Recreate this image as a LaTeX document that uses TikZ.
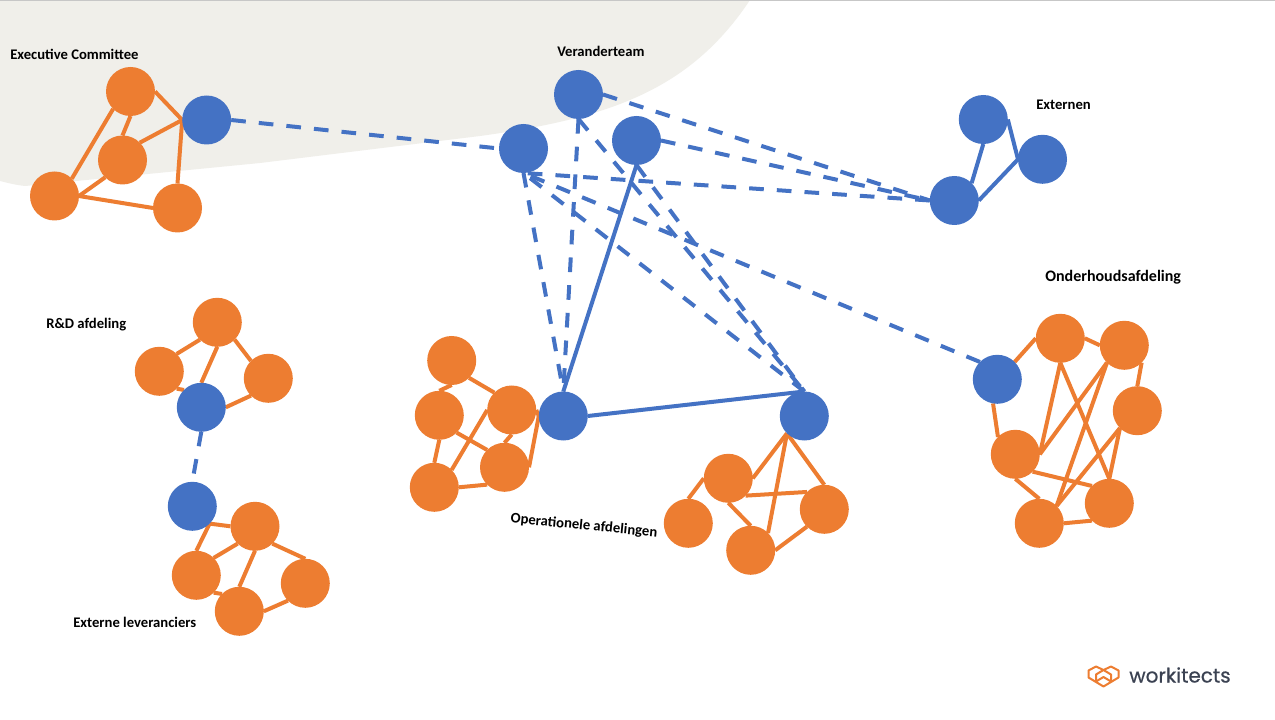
\documentclass[tikz,border=0pt]{standalone}
\usepackage{fontspec}
\setmainfont{Carlito}
\newfontfamily\logofont[FakeBold=0.5]{Poppins}
\pgfdeclarelayer{bg}
\pgfdeclarelayer{edges}
\pgfsetlayers{bg,edges,main}
\definecolor{wkorange}{HTML}{ED7D31}
\definecolor{wkblue}{HTML}{4472C4}
\definecolor{wksand}{HTML}{F0EFEA}
\definecolor{wkdark}{HTML}{3B4252}
\tikzset{
  orangedot/.style={circle,fill=wkorange,minimum size=36.75pt,inner sep=0pt,outer sep=0pt},
  bluedot/.style={circle,fill=wkblue,minimum size=36.75pt,inner sep=0pt,outer sep=0pt},
  olink/.style={draw=wkorange,line width=3pt},
  blink/.style={draw=wkblue,line width=3pt},
  dlink/.style={draw=wkblue,line width=3pt,dash pattern=on 11pt off 9.8pt},
  lab/.style={font=\bfseries\fontsize{11}{13}\selectfont,text=black,inner sep=0pt},
}
\begin{document}
\begin{tikzpicture}[x=0.75pt,y=-0.75pt]
\useasboundingbox (0,0) rectangle (1275,720);
\begin{pgfonlayer}{bg}
\fill[white] (0,0) rectangle (1275,720);
\fill[wksand] (0,0) -- (0,181) .. controls (8,183) and (16,185) .. (25,186) -- (260,163) -- (480,136) .. controls (610,118) and (690,90) .. (750,0) -- cycle;
\fill[black!22] (0,0) rectangle (1275,1);
\end{pgfonlayer}
% Executive Committee
\node[orangedot] (e1) at (130.5,91.5) {};
\node[orangedot] (e2) at (122.5,160) {};
\node[orangedot] (e3) at (54.5,196) {};
\node[orangedot] (e4) at (177.5,208) {};
\node[bluedot] (eb) at (206.7,120) {};
% Veranderteam
\node[bluedot] (v1) at (523.5,148.5) {};
\node[bluedot] (v2) at (578.5,94.5) {};
\node[bluedot] (v3) at (636.5,140.5) {};
% Externen
\node[bluedot] (x1) at (983.3,119.5) {};
\node[bluedot] (x2) at (1042.5,159.3) {};
\node[bluedot] (x3) at (954.3,200.5) {};
% Operational
\node[orangedot] (a1) at (451.7,360.5) {};
\node[orangedot] (a2) at (439.3,415.3) {};
\node[orangedot] (a3) at (511.7,410) {};
\node[orangedot] (a4) at (504.5,467.3) {};
\node[orangedot] (a5) at (434.3,487.3) {};
\node[bluedot] (p1) at (563.3,416) {};
\node[bluedot] (p2) at (804.3,416) {};
\node[orangedot] (b1) at (728.3,478.3) {};
\node[orangedot] (b2) at (688.3,523.3) {};
\node[orangedot] (b3) at (750.7,550.3) {};
\node[orangedot] (b4) at (824.3,509.3) {};
% Onderhoud
\node[bluedot] (rb) at (997.3,379.3) {};
\node[orangedot] (c1) at (1060.3,338.3) {};
\node[orangedot] (c2) at (1124.3,345.3) {};
\node[orangedot] (c3) at (1137.3,410.7) {};
\node[orangedot] (c4) at (1015.3,454.3) {};
\node[orangedot] (c5) at (1109.3,503.3) {};
\node[orangedot] (c6) at (1039.3,523.3) {};
% R&D
\node[orangedot] (d1) at (217.3,322.3) {};
\node[orangedot] (d2) at (159.3,371.3) {};
\node[orangedot] (d3) at (268.3,378.3) {};
\node[bluedot] (db) at (201.3,407.3) {};
% Externe leveranciers
\node[bluedot] (fb) at (192.3,506.3) {};
\node[orangedot] (f1) at (255,526.3) {};
\node[orangedot] (f2) at (196.3,575.3) {};
\node[orangedot] (f3) at (305.3,583.3) {};
\node[orangedot] (f4) at (239.3,611.3) {};
\begin{pgfonlayer}{edges}
% Executive
\draw[olink] (e1.east) -- (eb.west);
\draw[olink] (e2.north east) -- (eb.west);
\draw[olink] (e4.north) -- (eb.west);
\draw[olink] (e1.south) -- (e2.north);
\draw[olink] (e1.south west) -- (e3.north east);
\draw[olink] (e2.south west) -- (e3.east);
\draw[olink] (e3.east) -- (e4.west);
% Externen
\draw[blink] (x1.south) -- (x3.north east);
\draw[blink] (x1.east) -- (x2.west);
\draw[blink] (x2.west) -- (x3.east);
% Operational left
\draw[olink] (a1.south) -- (a2.north);
\draw[olink] (a1.south east) -- (a3.north west);
\draw[olink] (a2.south) -- (a5.north);
\draw[olink] (a2.south east) -- (a4.north west);
\draw[olink] (a3.west) -- (a5.north east);
\draw[olink] (a3.south) -- (a4.north);
\draw[olink] (a5.east) -- (a4.south west);
\draw[olink] (a4.east) -- (p1.west);
\draw[olink] (a3.east) -- (p1.west);
% Operational right
\draw[olink] (p2.south west) -- (b1.east);
\draw[olink] (p2.south west) -- (b3.north east);
\draw[olink] (p2.south west) -- (b4.north);
\draw[olink] (b1.west) -- (b2.north);
\draw[olink] (b1.south east) -- (b4.north west);
\draw[olink] (b1.south) -- (b3.north);
\draw[olink] (b3.east) -- (b4.south west);
% Onderhoud
\draw[olink] (rb.north east) -- (c1.west);
\draw[olink] (c1.east) -- (c2.west);
\draw[olink] (c2.south east) -- (c3.north);
\draw[olink] (c1.south) -- (c4.east);
\draw[olink] (c1.south) -- (c5.north);
\draw[olink] (c2.south west) -- (c4.east);
\draw[olink] (c2.south west) -- (c6.north east);
\draw[olink] (c3.south west) -- (c5.north);
\draw[olink] (c3.south west) -- (c6.north east);
\draw[olink] (rb.260) -- (c4.north west);
\draw[olink] (c4.south east) -- (c5.north west);
\draw[olink] (c4.south) -- (c6.north);
\draw[olink] (c6.east) -- (c5.south west);
% R&D
\draw[olink] (d1.south west) -- (d2.north east);
\draw[olink] (d1.south) -- (db.north);
\draw[olink] (d1.south east) -- (d3.north west);
\draw[olink] (d2.south east) -- (db.north west);
\draw[olink] (d3.south west) -- (db.east);
% Externe leveranciers
\draw[olink] (fb.south east) -- (f1.west);
\draw[olink] (fb.south east) -- (f2.north);
\draw[olink] (f1.south west) -- (f2.north east);
\draw[olink] (f1.south) -- (f4.north);
\draw[olink] (f1.south east) -- (f3.north);
\draw[olink] (f2.south east) -- (f4.north west);
\draw[olink] (f4.east) -- (f3.south west);
% Blue links
\draw[dlink] (db.south) -- (fb.north);
\draw[dlink] (eb.east) -- (v1.west);
\draw[dlink] (v2.east) -- (x3.west);
\draw[dlink] (v3.east) -- (x3.west);
\draw[dlink] (x3.west) -- (v1.south);
\draw[dlink] (rb.north west) -- (v1.south);
\draw[dlink] (p2.north) -- (v1.south);
\draw[dlink] (v1.south) -- (p1.north);
\draw[dlink] (v2.south) -- (p1.north);
\draw[dlink] (v2.south) -- (p2.north);
\draw[dlink] (v3.south) -- (p2.north);
\draw[blink] (p1.north) -- (v3.south);
\draw[blink] (p1.east) -- (p2.north);
\end{pgfonlayer}
% Labels
\node[lab,anchor=west] (t1) at (10,54.5) {Executive Committee};
\node[lab,anchor=west] (t2) at (557,51.5) {Veranderteam};
\node[lab,anchor=west] (t3) at (1036,105) {Externen};
\node[lab,anchor=west,font=\bfseries\fontsize{12}{14}\selectfont] (t4) at (1045,277.5) {Onderhoudsafdeling};
\node[lab,anchor=west] (t5) at (46,324.5) {R\&D afdeling};
\node[lab,anchor=west] (t6) at (73,622.5) {Externe leveranciers};
\node[lab,rotate=-5.5] (t7) at (584,526) {Operationele afdelingen};
% Logo
\begin{scope}[draw=wkorange,line width=1.5pt,line join=round]
\draw (1088.5,670.5) -- (1096,666.5) -- (1103.5,670) -- (1111,666.5) -- (1118.5,670.5) -- (1118.5,677.5) -- (1103.5,686.5) -- (1088.5,677.5) -- cycle;
\draw (1096,682) -- (1096,674.5) -- (1103.5,670) -- (1111,674.5) -- (1111,682);
\draw (1096,681.5) -- (1103.5,677) -- (1111,681.5);
\end{scope}
\node[anchor=west,inner sep=0pt,text=wkdark,font=\logofont\fontsize{15}{18}\selectfont] (logo) at (1129,675) {workitects};
\end{tikzpicture}
\end{document}
